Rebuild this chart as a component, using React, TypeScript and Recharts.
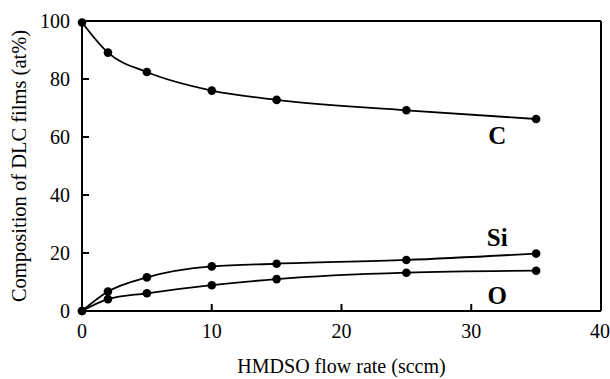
import { Label, Line, LineChart, ReferenceDot, ReferenceLine, XAxis, YAxis } from "recharts";

// HMDSO flow rate (sccm)
const flowRates = [0, 2, 5, 10, 15, 25, 35];
// composition (at%)
const carbon = [99.5, 89.1, 82.4, 76.0, 72.8, 69.2, 66.2];
const silicon = [0, 6.7, 11.6, 15.4, 16.3, 17.6, 19.8];
const oxygen = [0, 4.1, 6.1, 8.9, 11.0, 13.2, 13.9];

const xTicks = [0, 10, 20, 30, 40];
const yTicks = [0, 20, 40, 60, 80, 100];

const seriesLabels = [
  { name: "C", x: 32, y: 60.5 },
  { name: "Si", x: 32, y: 25.5 },
  { name: "O", x: 32, y: 5.6 },
];

const data = flowRates.map((f, i) => ({ flow: f, C: carbon[i], Si: silicon[i], O: oxygen[i] }));

const FONT = "Liberation Serif, Times New Roman, serif";
const tickStyle = { fill: "#000", fontSize: 20, fontFamily: FONT };
const dotStyle = { r: 4.3, fill: "#000", stroke: "#000", strokeWidth: 0 };

export default function App() {
  return (
    <div
      style={{
        position: "fixed",
        left: 0,
        top: 0,
        width: 610,
        height: 379,
        background: "#fff",
        fontFamily: FONT,
      }}
    >
      <LineChart width={610} height={379} data={data} margin={{ top: 21, right: 9, bottom: 0, left: 0 }}>
        <XAxis
          dataKey="flow"
          type="number"
          domain={[0, 40]}
          ticks={xTicks}
          height={68}
          stroke="#000"
          strokeWidth={2}
          tickSize={-7}
          tickMargin={20}
          tick={tickStyle}
        >
          <Label
            value="HMDSO flow rate (sccm)"
            position="insideBottom"
            offset={5.8}
            style={{ fill: "#000", fontSize: 20, fontFamily: FONT }}
          />
        </XAxis>
        <YAxis
          type="number"
          domain={[0, 100]}
          ticks={yTicks}
          width={82}
          stroke="#000"
          strokeWidth={2}
          tickSize={-7}
          tickMargin={19}
          tick={tickStyle}
        >
          <Label
            value="Composition of DLC films (at%)"
            position="center"
            angle={-90}
            dx={-22.5}
            style={{ fill: "#000", fontSize: 20.5, fontFamily: FONT, textAnchor: "middle" }}
          />
        </YAxis>
        <ReferenceLine y={100} stroke="#000" strokeWidth={2} />
        <ReferenceLine x={40} stroke="#000" strokeWidth={2} />
        <Line type="monotone" dataKey="C" stroke="#000" strokeWidth={1.8} dot={dotStyle} isAnimationActive={false} />
        <Line type="monotone" dataKey="Si" stroke="#000" strokeWidth={1.8} dot={dotStyle} isAnimationActive={false} />
        <Line type="monotone" dataKey="O" stroke="#000" strokeWidth={1.8} dot={dotStyle} isAnimationActive={false} />
        {seriesLabels.map((s) => (
          <ReferenceDot
            key={s.name}
            x={s.x}
            y={s.y}
            r={0}
            fill="none"
            stroke="none"
            label={{
              value: s.name,
              position: "center",
              style: { fill: "#000", fontSize: 25, fontWeight: "bold", fontFamily: FONT },
            }}
          />
        ))}
      </LineChart>
    </div>
  );
}
